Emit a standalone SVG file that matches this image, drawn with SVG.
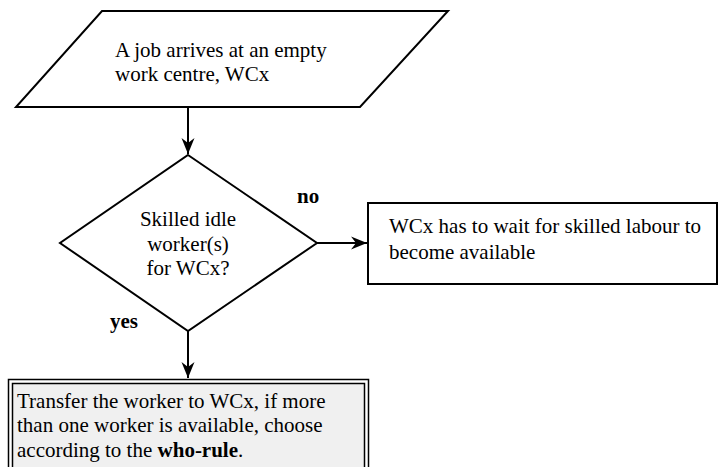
<svg xmlns="http://www.w3.org/2000/svg" width="718" height="467" viewBox="0 0 718 467">
<defs>
<style>
.shape{fill:#fff;stroke:#000;stroke-width:2}
.t{font-family:"Liberation Serif","Times New Roman",serif;font-size:21px;fill:#000}
.b{font-weight:bold}
.conn{stroke:#000;stroke-width:2;fill:none}
.dbl{stroke:#000;stroke-width:1.5}
</style>
<marker id="ah" viewBox="-17 -7 18 14" refX="0" refY="0" markerWidth="18" markerHeight="14" markerUnits="userSpaceOnUse" orient="auto">
<path d="M0,0 L-16,-6.5 L-11,0 L-16,6.5 Z" fill="#000"/>
</marker>
</defs>
<rect width="718" height="467" fill="#fff"/>
<g id="start">
<polygon class="shape" points="102,11 448,11 360,107 16,107"/>
<text class="t" x="115" y="57">A job arrives at an empty</text>
<text class="t" x="115" y="81">work centre, WCx</text>
</g>
<g id="decision">
<polygon class="shape" points="188,155 317,243 188,331 60,243"/>
<text class="t" x="188" y="226" text-anchor="middle">Skilled idle</text>
<text class="t" x="188" y="251" text-anchor="middle">worker(s)</text>
<text class="t" x="188" y="275" text-anchor="middle">for WCx?</text>
</g>
<g id="wait">
<rect class="shape" x="368" y="203" width="349" height="81"/>
<text class="t" x="389" y="233">WCx has to wait for skilled labour to</text>
<text class="t" x="389" y="259">become available</text>
</g>
<g id="transfer">
<rect class="dbl" x="8.5" y="379.5" width="360" height="100" fill="#fff"/>
<rect class="dbl" x="12.5" y="383.5" width="352" height="90" fill="#f0f0f0"/>
<text class="t" x="17" y="408">Transfer the worker to WCx, if more</text>
<text class="t" x="17" y="432">than one worker is available, choose</text>
<text class="t" x="17" y="457">according to the <tspan class="b">who-rule</tspan>.</text>
</g>
<g id="connectors">
<line class="conn" x1="188" y1="107" x2="188" y2="154" marker-end="url(#ah)"/>
<line class="conn" x1="317" y1="243" x2="367" y2="243" marker-end="url(#ah)"/>
<line class="conn" x1="188" y1="331" x2="188" y2="378" marker-end="url(#ah)"/>
<text class="t b" x="297" y="203">no</text>
<text class="t b" x="110" y="328">yes</text>
</g>
</svg>
